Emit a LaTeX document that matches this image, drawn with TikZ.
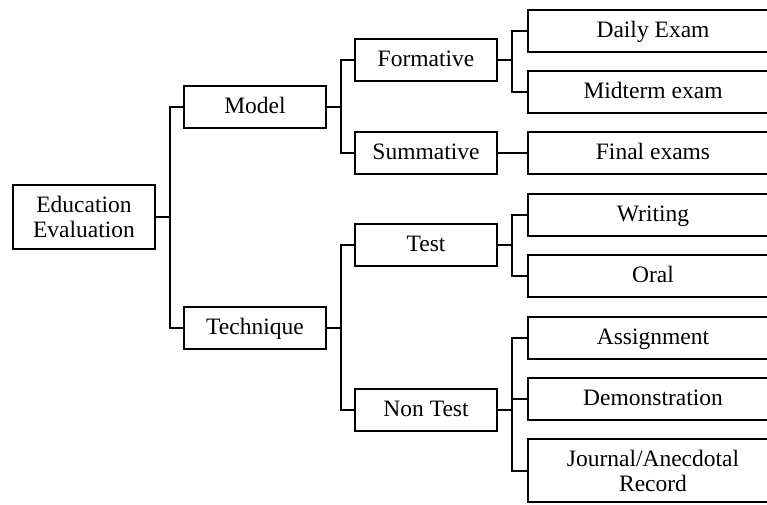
\documentclass[tikz,border=0pt]{standalone}
\usepackage{fontspec}
\setmainfont{Liberation Serif}
\begin{document}
\begin{tikzpicture}[x=1pt,y=-1pt,
  box/.style={draw, line width=2pt, inner sep=0pt, align=center,
    font=\fontsize{23.5}{25}\selectfont},
  one/.style={text height=17pt, text depth=4pt},
  midbox/.style={box, one, minimum width=142pt, minimum height=42pt},
  leaf/.style={box, minimum width=250pt, minimum height=42pt},
  elbow/.style={line width=2pt, line join=miter,
    to path={-- ++(13.5pt,0) |- (\tikztotarget)}}]
\useasboundingbox (0,0) rectangle (767,504);
\clip (0,0) rectangle (767,504);
\node[box, minimum width=142pt, minimum height=64pt] (edu) at (84,217) {Education\\Evaluation};
\node[midbox] (model) at (255,106.5) {Model};
\node[midbox] (tech) at (255,327.5) {Technique};
\node[midbox] (form) at (426,60) {Formative};
\node[midbox] (summ) at (426,152.5) {Summative};
\node[midbox] (test) at (426,245) {Test};
\node[midbox] (nontest) at (426,410) {Non Test};
\node[leaf, one] (daily) at (653,30.5) {Daily Exam};
\node[leaf, one] (mid) at (653,91.5) {Midterm exam};
\node[leaf, one] (final) at (653,152.5) {Final exams};
\node[leaf, one] (writing) at (653,214.5) {Writing};
\node[leaf, one] (oral) at (653,275.5) {Oral};
\node[leaf, one] (assign) at (653,337.5) {Assignment};
\node[leaf, one] (demo) at (653,398.5) {Demonstration};
\node[leaf, minimum height=63pt] (journal) at (653,470.5) {Journal/Anecdotal\\Record};
\draw[elbow] (edu.east) to (model.west);
\draw[elbow] (edu.east) to (tech.west);
\draw[elbow] (model.east) to (form.west);
\draw[elbow] (model.east) to (summ.west);
\draw[elbow] (tech.east) to (test.west);
\draw[elbow] (tech.east) to (nontest.west);
\draw[elbow] (form.east) to (daily.west);
\draw[elbow] (form.east) to (mid.west);
\draw[elbow] (summ.east) to (final.west);
\draw[elbow] (test.east) to (writing.west);
\draw[elbow] (test.east) to (oral.west);
\draw[elbow] (nontest.east) to (assign.west);
\draw[elbow] (nontest.east) to (demo.west);
\draw[elbow] (nontest.east) to (journal.west);
\end{tikzpicture}
\end{document}
